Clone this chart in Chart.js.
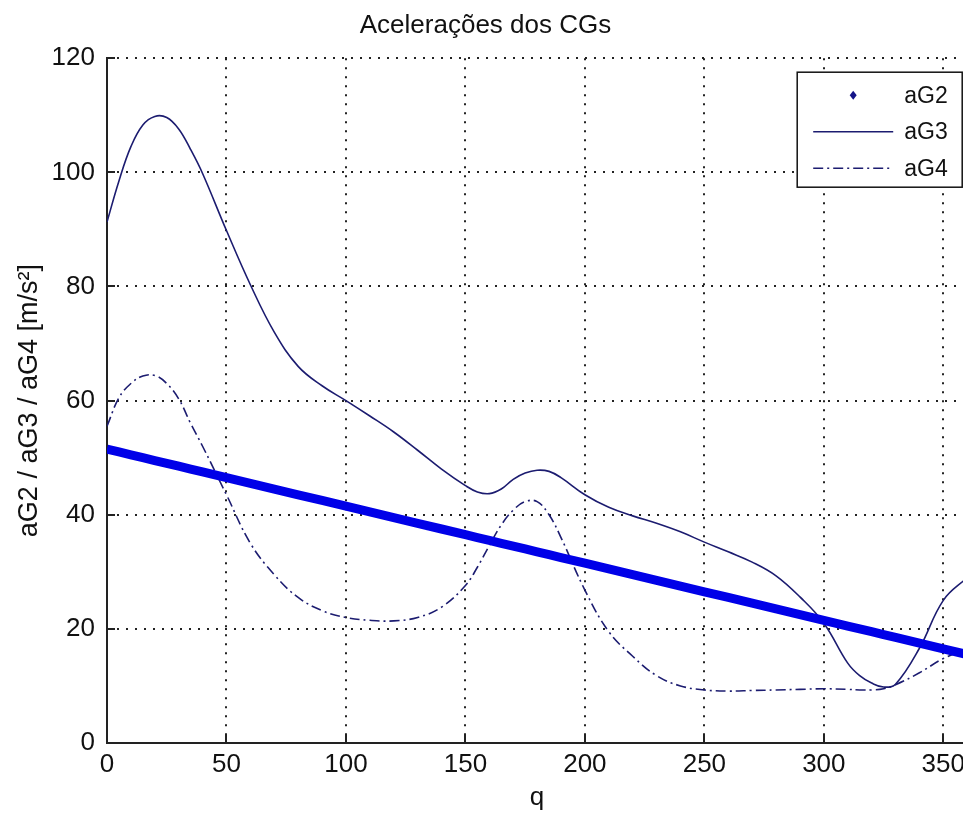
<!DOCTYPE html>
<html>
<head>
<meta charset="utf-8">
<title>Acelerações dos CGs</title>
<script src="https://cdn.jsdelivr.net/npm/chart.js@4"></script>
<style>
  html, body { margin: 0; padding: 0; background: #fff; overflow: hidden; }
  #grafico { display: block; }
</style>
</head>
<body>
<canvas id="grafico" width="971" height="813"></canvas>
<script>
// ângulo da manivela (graus)
const q = [0, 5, 10, 15, 20, 25, 30, 35, 40, 50, 60, 70, 80, 90, 100, 110, 120, 130, 140, 150,
  155, 160, 165, 170, 175, 180, 185, 190, 200, 210, 220, 230, 240, 250, 260, 270, 280, 290,
  300, 310, 315, 320, 325, 330, 340, 350, 360];

// acelerações dos centros de gravidade [m/s2]
const aG2 = [51.5, 51, 50.5, 50, 49.5, 49, 48.5, 48, 47.5, 46.5, 45.5, 44.5, 43.5, 42.5, 41.5, 40.5,
  39.5, 38.5, 37.5, 36.5, 36, 35.5, 35, 34.5, 34, 33.5, 33, 32.5, 31.5, 30.5, 29.5, 28.5, 27.5,
  26.5, 25.5, 24.5, 23.5, 22.5, 21.5, 20.5, 20, 19.5, 19, 18.5, 17.5, 16.5, 15.5];
const aG3 = [91.3, 98.5, 104.5, 108.3, 109.8, 109.6, 107.6, 104, 99.8, 89.8, 80.3, 72, 66, 62.6, 60,
  57.3, 54.5, 51.3, 48, 45.1, 44, 43.7, 44.5, 46.2, 47.3, 47.8, 47.6, 46.5, 43.5, 41.3, 39.8, 38.5,
  37, 35.2, 33.5, 31.7, 29.3, 25.6, 21, 14, 11.8, 10.5, 9.8, 10.3, 16.6, 25, 29];
const aG4 = [55.5, 60.5, 63, 64.3, 64.4, 63, 60.3, 56, 52, 43.5, 35, 29.5, 25.5, 23.2, 22, 21.5,
  21.4, 22, 23.8, 27.6, 30.8, 34.6, 38.2, 40.8, 42.3, 42.3, 40, 36, 26.8, 19.5, 15.2, 11.8, 10,
  9.3, 9.1, 9.2, 9.3, 9.4, 9.5, 9.4, 9.3, 9.3, 9.5, 10.2, 12.3, 14.8, 16.5];

// marcas dos eixos
const ticksQ = [0, 50, 100, 150, 200, 250, 300, 350];
const ticksA = [0, 20, 40, 60, 80, 100, 120];

const pontos = (ys) => q.map((x, i) => ({ x: x, y: ys[i] }));

const fonte = "'Liberation Sans', Arial, sans-serif";
const azul = "#0000e8";
const marinho = "#1c1c70";
const pontilhado = [2, 7];

// marcas de escala para dentro do gráfico + legenda com moldura
const eixosMatlab = {
  id: "eixosMatlab",
  afterDraw(chart) {
    const { ctx, chartArea: a, scales } = chart;
    ctx.save();
    ctx.strokeStyle = "#222";
    ctx.lineWidth = 2;
    ctx.beginPath();
    scales.y.ticks.forEach((t) => {
      const y = Math.round(scales.y.getPixelForValue(t.value));
      ctx.moveTo(a.left, y);
      ctx.lineTo(a.left + 8, y);
    });
    scales.x.ticks.forEach((t) => {
      const x = Math.round(scales.x.getPixelForValue(t.value));
      ctx.moveTo(x, a.bottom);
      ctx.lineTo(x, a.bottom - 8);
    });
    ctx.stroke();

    // legenda
    const bx = a.right - 170, by = a.top + 14, bw = 165, bh = 115;
    ctx.fillStyle = "#fff";
    ctx.fillRect(bx, by, bw, bh);
    ctx.strokeStyle = "#111";
    ctx.lineWidth = 1.5;
    ctx.strokeRect(bx, by, bw, bh);

    const itens = chart.data.datasets;
    ctx.font = "23px " + fonte;
    ctx.textBaseline = "middle";
    ctx.textAlign = "left";
    itens.forEach((ds, i) => {
      const y = by + 23 + i * 36.5;
      const x0 = bx + 16, x1 = bx + 96;
      if (i === 0) {
        ctx.fillStyle = "#141488";
        ctx.beginPath();
        ctx.moveTo((x0 + x1) / 2, y - 4.5);
        ctx.lineTo((x0 + x1) / 2 + 3.5, y);
        ctx.lineTo((x0 + x1) / 2, y + 4.5);
        ctx.lineTo((x0 + x1) / 2 - 3.5, y);
        ctx.closePath();
        ctx.fill();
      } else {
        ctx.strokeStyle = ds.borderColor;
        ctx.lineWidth = 1.6;
        ctx.setLineDash(ds.borderDash || []);
        ctx.beginPath();
        ctx.moveTo(x0, y);
        ctx.lineTo(x1, y);
        ctx.stroke();
        ctx.setLineDash([]);
      }
      ctx.fillStyle = "#111";
      ctx.fillText(ds.label, bx + 107, y + 1);
    });
    ctx.restore();
  },
};

new Chart(document.getElementById("grafico"), {
  type: "line",
  data: {
    datasets: [
      {
        label: "aG2",
        data: pontos(aG2),
        borderColor: azul,
        borderWidth: 9,
        pointRadius: 0,
        tension: 0,
      },
      {
        label: "aG3",
        data: pontos(aG3),
        borderColor: marinho,
        borderWidth: 1.6,
        pointRadius: 0,
        tension: 0.4,
      },
      {
        label: "aG4",
        data: pontos(aG4),
        borderColor: marinho,
        borderWidth: 1.6,
        borderDash: [10, 4, 2, 4],
        pointRadius: 0,
        tension: 0.4,
      },
    ],
  },
  options: {
    responsive: false,
    animation: false,
    layout: { padding: 0 },
    plugins: {
      legend: { display: false },
      tooltip: { enabled: false },
      title: {
        display: true,
        text: "Acelerações dos CGs",
        color: "#111",
        font: { family: fonte, size: 26, weight: "normal" },
        padding: { top: 10, bottom: 17 },
      },
    },
    scales: {
      x: {
        type: "linear",
        min: 0,
        max: 360,
        afterFit: (s) => { s.height = 70; },
        afterBuildTicks: (s) => { s.ticks = ticksQ.map((v) => ({ value: v })); },
        ticks: {
          color: "#111",
          padding: 6,
          maxRotation: 0,
          autoSkip: false,
          font: { family: fonte, size: 26 },
        },
        grid: { color: "#222", lineWidth: 2, drawTicks: false },
        border: { display: true, color: "#222", width: 2, dash: pontilhado },
        title: {
          display: true,
          text: "q",
          color: "#111",
          font: { family: fonte, size: 26 },
          padding: { top: 0, bottom: 0 },
        },
      },
      y: {
        min: 0,
        max: 120,
        afterFit: (s) => { s.width = 107; },
        afterBuildTicks: (s) => { s.ticks = ticksA.map((v) => ({ value: v })); },
        ticks: {
          color: "#111",
          padding: 12,
          autoSkip: false,
          font: { family: fonte, size: 26 },
        },
        grid: { color: "#222", lineWidth: 2, drawTicks: false },
        border: { display: true, color: "#222", width: 2, dash: pontilhado },
        title: {
          display: true,
          text: "aG2 / aG3 / aG4 [m/s²]",
          color: "#111",
          font: { family: fonte, size: 27 },
          padding: { top: 13, bottom: 0 },
        },
      },
    },
  },
  plugins: [eixosMatlab],
});
</script>
</body>
</html>
